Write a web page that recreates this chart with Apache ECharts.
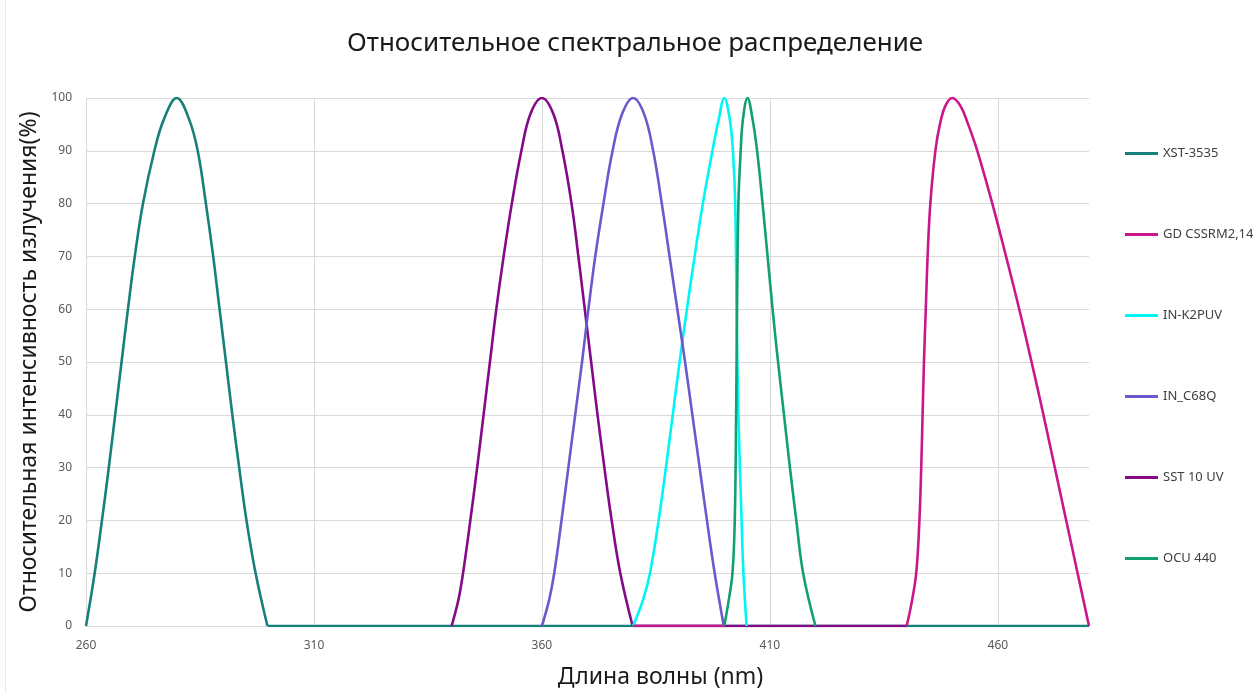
<!DOCTYPE html>
<html>
<head>
<meta charset="utf-8">
<script src="https://cdn.jsdelivr.net/npm/echarts@6/dist/echarts.min.js"></script>
<style>
html,body{margin:0;padding:0;background:#fff;}
#chart{width:1253px;height:693px;}
#frame{position:absolute;left:5px;top:0;width:1px;height:693px;background:#ececec;}
</style>
</head>
<body>
<div id="chart"></div>
<div id="frame"></div>
<script>
const titleText = 'Относительное спектральное распределение';
const xName = 'Длина волны (nm)';
const yName = 'Относительная интенсивность излучения(%)';
const seriesNames = ['XST-3535', 'GD CSSRM2,14', 'IN-K2PUV', 'IN_C68Q', 'SST 10 UV', 'OCU 440'];
const seriesColors = ['#17807a', '#c9178b', '#00f5f5', '#6a5acd', '#840a88', '#12a06e'];
const seriesZ = [2, 5, 4, 4, 3, 6];

// [wavelength nm, relative intensity %]  ('-' = gap in the line)
const xst3535 = [[260,0],[261.9,10],[263.5,20],[265,30],[266.4,40],[267.8,50],[269.2,60],[270.7,70],[272.5,80],[275,90],[277.1,96],[279.9,100],[282.6,96],[284.5,90],[286.3,80],[287.9,70],[289.3,60],[290.7,50],[292.1,40],[293.6,30],[295.2,20],[297.2,10],[299.8,0],[299.85,'-'],[299.9,0],[480,0]];
const gdCssrm = [[380,0],[400,0],[420,'-'],[440,0],[441,4],[442.1,10],[442.8,20],[443.2,30],[443.5,40],[443.8,50],[444.2,60],[444.6,70],[445.2,80],[446.3,90],[447.3,95],[448.5,98.5],[450,100],[451.8,98.5],[453.5,95],[455.5,90],[458.8,80],[461.8,70],[464.7,60],[467.4,50],[470,40],[472.5,30],[475,20],[477.5,10],[480,0]];
const inK2puv = [[380,0],[382.2,5],[383.7,10],[385.6,20],[387.2,30],[388.7,40],[390.2,50],[391.8,60],[393.5,70],[395.3,80],[397.4,90],[398.8,96],[400,100],[401.2,96],[401.9,90],[402.4,80],[402.7,60],[403.1,40],[403.8,20],[404.2,10],[404.9,0]];
const inC68q = [[360,0],[361.6,5],[362.7,10],[364.3,20],[365.8,30],[367.3,40],[368.8,50],[370.2,60],[371.7,70],[373.5,80],[375.5,90],[377.6,97],[380,100],[382.4,97],[384.4,90],[386.3,80],[388,70],[389.7,60],[391.4,50],[393,40],[394.6,30],[396.2,20],[397.9,10],[399.9,0]];
const sst10uv = [[340.2,0],[341.7,5],[342.7,10],[344.3,20],[345.8,30],[347.2,40],[348.6,50],[350,60],[351.6,70],[353.4,80],[355.5,90],[357.5,97],[360,100],[362.5,97],[364.5,90],[366.5,80],[368,70],[369.4,60],[370.8,50],[372.2,40],[373.7,30],[375.3,20],[377.2,10],[379.9,0],[379.95,'-'],[380,0],[440,0]];
const ocu440 = [[400,0],[401,5],[401.8,10],[402.3,20],[402.6,40],[402.8,60],[403.1,80],[403.6,90],[404.1,96],[405.1,100],[406.2,96],[407.2,90],[408.4,80],[409.5,70],[410.6,60],[411.8,50],[413.1,40],[414.4,30],[415.8,20],[417.3,10],[420,0]];
const seriesData = [xst3535, gdCssrm, inK2puv, inC68q, sst10uv, ocu440];

const xMin = 260, xMax = 480, xStep = 50;
const yMin = 0, yMax = 100, yStep = 10;

const FONT = 'Noto Sans';
const chart = echarts.init(document.getElementById('chart'), null, {renderer: 'canvas'});
chart.setOption({
  animation: false,
  backgroundColor: '#ffffff',
  title: {
    text: titleText, left: 342, top: 26,
    textStyle: {fontFamily: FONT, fontSize: 26, fontWeight: 'normal', color: '#1a1a1a'}
  },
  legend: {
    orient: 'vertical', left: 1120, top: 142,
    icon: 'rect', itemWidth: 33, itemHeight: 3, itemGap: 68,
    textStyle: {fontFamily: FONT, fontSize: 13, color: '#404040'},
    data: seriesNames
  },
  grid: {left: 86, right: 164, top: 98, bottom: 67, containLabel: false, outerBoundsMode: 'none'},
  xAxis: {
    type: 'value', min: xMin, max: xMax, interval: xStep,
    name: xName, nameLocation: 'middle', nameGap: 40,
    nameTextStyle: {fontFamily: FONT, fontSize: 23, color: '#1a1a1a', padding: [0, 0, 0, 146]},
    axisLine: {show: true, lineStyle: {color: '#d9d9d9'}},
    axisTick: {show: false},
    axisLabel: {fontFamily: FONT, fontSize: 12, color: '#595959', margin: 14, showMaxLabel: false},
    splitLine: {show: true, lineStyle: {color: ['#d9d9d9','#d9d9d9','#d9d9d9','#d9d9d9','#d9d9d9','rgba(0,0,0,0)'], width: 1}}
  },
  yAxis: {
    type: 'value', min: yMin, max: yMax, interval: yStep,
    name: yName, nameLocation: 'middle', nameGap: 44,
    nameTextStyle: {fontFamily: FONT, fontSize: 23, color: '#1a1a1a'},
    axisLine: {show: false},
    axisTick: {show: false},
    axisLabel: {fontFamily: FONT, fontSize: 12, color: '#595959', margin: 14},
    splitLine: {show: true, lineStyle: {color: '#d9d9d9', width: 1}}
  },
  series: seriesNames.map((n, i) => ({
    name: n, type: 'line', data: seriesData[i], smooth: 0.4,
    connectNulls: false, showSymbol: false, symbol: 'none',
    lineStyle: {width: 2.6, color: seriesColors[i]},
    itemStyle: {color: seriesColors[i]},
    z: seriesZ[i]
  }))
});
</script>
</body>
</html>
